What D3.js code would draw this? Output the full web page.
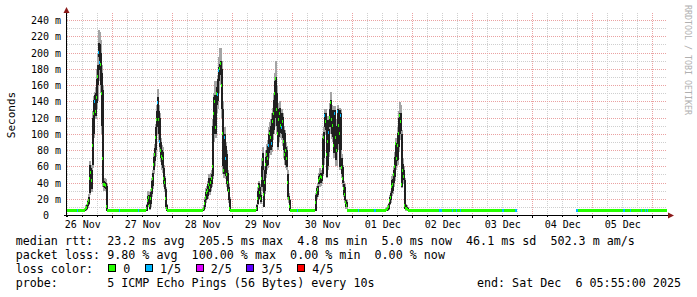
<!DOCTYPE html>
<html>
<head>
<meta charset="utf-8">
<script src="https://cdn.jsdelivr.net/npm/d3@7"></script>
<style>
body { margin: 0; background: #fff; }
svg text { font-family: "DejaVu Sans Mono", monospace; white-space: pre; }
</style>
</head>
<body>
<div id="chart"></div>
<script>
// time window (one column = one consolidated step)
var startTime = "2025-11-26T05:55Z";
var endTime = "2025-12-06T05:55Z";
var stepMinutes = 24;

var dayLabels = ["26 Nov", "27 Nov", "28 Nov", "29 Nov", "30 Nov", "01 Dec", "02 Dec", "03 Dec", "04 Dec", "05 Dec"];
var yTicks = [0, 20, 40, 60, 80, 100, 120, 140, 160, 180, 200, 220, 240];

// quiet level outside the busy hours (ms)
var baseRtt = 5.0;
var gapFrom = "2025-12-03T17:55Z";
var gapTo = "2025-12-04T17:31Z";

// busy periods, one value per step: median, dark smoke, light smoke, loss (pings of 5)
var peakStart = ["2025-11-26T12:43Z", "2025-11-27T13:31Z", "2025-11-28T11:55Z",
                 "2025-11-29T09:31Z", "2025-11-30T09:07Z", "2025-12-01T13:07Z"];
var peakMed = [
    [6,8,9,14,18,45,52,42,85,125,140,128,145,170,200,188,185,150,70,38,37,36,10],
    [8,18,22,12,20,32,45,62,75,95,118,138,118,90,80,72,70,45,40,20,8],
    [6,8,14,22,28,30,38,34,40,45,60,125,140,108,150,148,178,180,187,160,100,55,95,70,50,40,30,8],
    [8,20,35,28,20,45,68,25,40,62,75,70,85,100,95,88,115,125,150,168,130,100,118,125,110,108,115,90,75,80,70,40,20,10],
    [15,28,32,42,45,48,46,60,95,122,115,75,90,102,120,138,118,110,85,125,95,80,128,110,100,123,59,45,33,25,15,12],
    [6,7,8,10,18,22,35,38,50,60,88,70,85,100,123,115,37,55,48,12,8,8,7]
];
var peakLo = [
    [5,6,7,11,14,27,35,32,62,100,132,122,138,160,195,178,160,110,39,34,33,32,5],
    [5,12,15,8,14,26,36,55,66,80,108,125,100,84,70,62,58,38,32,10,5],
    [5,6,10,18,20,24,30,28,33,38,48,100,118,100,135,140,165,172,178,130,60,50,55,48,38,30,18,5],
    [5,14,22,20,16,35,55,10,30,51,60,62,76,88,80,84,100,105,120,140,110,84,96,110,101,100,95,80,68,62,59,22,18,5],
    [5,22,25,38,39,40,42,51,70,108,105,47,60,78,108,115,100,96,76,91,68,78,88,90,59,80,50,39,25,18,10,10],
    [5,5,6,8,14,18,27,30,39,47,60,66,68,84,100,104,35,43,43,8,6,6,5]
];
var peakHi = [
    [8,10,12,17,22,62,58,56,120,142,148,150,168,185,212,210,200,175,154,42,41,40,36],
    [12,24,25,18,28,42,52,72,82,108,128,145,128,120,90,80,78,58,45,32,12],
    [8,10,18,28,32,38,45,42,46,50,110,145,148,135,158,168,182,186,190,180,130,100,100,85,75,52,35,20],
    [12,30,39,34,25,60,76,43,55,72,80,85,100,105,110,118,125,142,165,170,150,112,130,132,123,125,121,105,101,84,80,51,24,18],
    [25,33,36,48,51,52,50,95,102,126,125,110,117,106,130,142,128,129,121,129,109,88,130,125,129,126,70,59,38,35,18,16],
    [8,9,10,13,22,27,43,44,55,72,89,80,101,120,125,125,100,63,55,43,12,10,9]
];
var peakMin = [
    [5,5,6,9,12,25,30,28,58,95,125,118,130,140,180,165,150,100,35,30,30,30,5],
    [5,10,12,6,10,22,32,50,60,72,100,112,90,78,65,55,52,34,28,8,5],
    [5,5,8,15,18,20,26,25,30,34,44,90,108,95,125,130,150,160,165,120,50,45,50,44,34,28,15,5],
    [5,12,20,18,14,30,45,10,26,45,55,58,70,82,74,78,92,100,110,125,100,80,90,100,95,92,85,70,62,58,55,20,15,5],
    [5,20,22,34,35,36,38,48,62,100,98,45,55,72,100,105,94,90,70,85,60,60,80,85,55,75,45,35,22,15,8,8],
    [5,5,5,6,12,15,24,26,35,42,55,60,62,78,92,95,33,40,38,7,5,5,5]
];
var peakMax = [
    [9,12,14,19,26,66,62,60,128,146,152,158,180,200,228,225,215,185,160,45,46,44,38],
    [14,30,28,20,32,46,56,76,88,112,135,155,135,125,95,86,84,62,48,35,14],
    [9,12,22,33,36,42,50,48,52,55,118,150,165,150,165,172,195,205,205,190,140,105,108,90,80,55,38,22],
    [14,34,42,38,28,70,84,50,60,80,88,92,108,115,118,125,132,150,175,189,160,120,138,140,128,130,126,110,105,90,85,55,27,20],
    [27,36,40,52,58,56,54,100,108,130,130,117,122,112,138,152,135,134,126,134,118,95,135,130,132,130,75,62,42,38,20,18],
    [9,10,12,15,25,30,48,50,60,78,95,85,108,128,139,135,105,70,60,46,14,12,10]
];
var peakLoss = [
    [0,0,0,0,0,0,0,0,0,0,1,0,0,0,1,1,0,0,0,0,0,0,0],
    [0,0,0,0,0,0,0,0,0,0,0,1,0,1,0,0,0,0,0,0,0],
    [0,0,0,0,0,0,0,0,0,0,0,0,0,0,0,1,1,0,0,0,0,0,1,1,0,0,0,0],
    [0,0,0,0,0,0,0,0,0,0,0,0,1,0,0,1,0,0,0,0,0,0,0,0,0,1,0,0,0,0,0,0,0,0],
    [0,0,0,0,0,0,0,0,0,1,0,0,0,1,0,0,0,0,0,1,0,0,1,0,0,1,0,0,0,0,0,0],
    [0,0,0,0,0,0,0,0,0,0,0,0,0,0,0,0,0,0,0,0,0,0,0]
];

// 1/5 loss steps during the quiet hours
var quietLoss = ["2025-11-26T09:55Z", "2025-11-27T02:43Z", "2025-11-27T10:19Z", "2025-11-30T01:55Z",
    "2025-12-01T02:19Z", "2025-12-01T08:43Z", "2025-12-01T09:07Z", "2025-12-02T10:43Z",
    "2025-12-02T11:07Z", "2025-12-02T11:31Z", "2025-12-02T15:55Z", "2025-12-02T17:31Z",
    "2025-12-02T19:07Z", "2025-12-03T11:55Z", "2025-12-03T12:19Z", "2025-12-03T17:07Z",
    "2025-12-03T17:31Z", "2025-12-04T17:31Z", "2025-12-04T17:55Z", "2025-12-05T12:19Z",
    "2025-12-05T12:43Z", "2025-12-05T15:07Z", "2025-12-05T19:31Z", "2025-12-05T21:07Z",
    "2025-12-05T21:55Z"];

var lossLabels = ["0", "1/5", "2/5", "3/5", "4/5"];
var lossColors = ["#26ff00", "#00b8ff", "#dd00ff", "#5e00ff", "#ff0000"];

var legendRtt = "median rtt:  23.2 ms avg  205.5 ms max  4.8 ms min  5.0 ms now  46.1 ms sd  502.3 m am/s";
var legendLoss = "packet loss: 9.80 % avg  100.00 % max  0.00 % min  0.00 % now";
var legendProbe = "probe:       5 ICMP Echo Pings (56 Bytes) every 10s";
var legendEnd = "end: Sat Dec  6 05:55:00 2025";

// ---- build the step series
var start = new Date(startTime), end = new Date(endTime);
var stepMs = stepMinutes * 60000;
var nSteps = Math.round((end - start) / stepMs);
var stepOf = function(t) { return Math.round((Date.parse(t) - start) / stepMs); };

var series = [];
for (var i = 0; i < nSteps; i++) {
    series.push({ t: new Date(+start + i * stepMs), med: baseRtt, loss: 0 });
}
peakStart.forEach(function(s, p) {
    var i0 = stepOf(s);
    peakMed[p].forEach(function(v, k) {
        var d = series[i0 + k];
        d.med = v;
        d.lo = peakLo[p][k];
        d.hi = peakHi[p][k];
        d.mn = peakMin[p][k];
        d.mx = peakMax[p][k];
        d.loss = peakLoss[p][k];
    });
});
quietLoss.forEach(function(t) { series[stepOf(t)].loss = 1; });
var g0 = stepOf(gapFrom), g1 = stepOf(gapTo);
series = series.filter(function(d, i) { return i < g0 || i >= g1; });

// ---- chart
var svg = d3.select("#chart").append("svg")
    .attr("width", 697)
    .attr("height", 297);

var x = d3.scaleUtc().domain([start, end]).range([67, 667]);
var y = d3.scaleLinear().domain([0, 240]).range([215, 20]);
var plotTop = 13;

// grid
var grid = svg.append("g").attr("shape-rendering", "crispEdges");
var hourLines = d3.utcHour.every(6).range(start, end);
grid.selectAll(".vgrid")
    .data(hourLines)
    .enter().append("line")
        .attr("x1", function(d) { return Math.round(x(d)) + 0.5; })
        .attr("x2", function(d) { return Math.round(x(d)) + 0.5; })
        .attr("y1", plotTop)
        .attr("y2", 215)
        .attr("stroke", function(d) { return d.getUTCHours() == 0 ? "#eaa2a2" : "#cfcfcf"; })
        .attr("stroke-dasharray", "1,1");

var hLines = d3.range(10, 241, 10);
grid.selectAll(".hgrid")
    .data(hLines)
    .enter().append("line")
        .attr("x1", 67)
        .attr("x2", 667)
        .attr("y1", function(d) { return Math.round(y(d)) + 0.5; })
        .attr("y2", function(d) { return Math.round(y(d)) + 0.5; })
        .attr("stroke", function(d) { return d % 20 == 0 ? "#eaa2a2" : "#cfcfcf"; })
        .attr("stroke-dasharray", "1,1");

// smoke and median (smoke columns 2px wide so neighbours merge like the rrd areas)
var colX = function(d) { return Math.round(x(d.t)); };
var marks = svg.append("g").attr("shape-rendering", "crispEdges");
var smoky = series.filter(function(d) { return d.mx != null; });

marks.selectAll(".outer")
    .data(smoky)
    .enter().append("rect")
        .attr("x", colX)
        .attr("width", 2)
        .attr("y", function(d) { return y(d.mx); })
        .attr("height", function(d) { return y(d.mn) - y(d.mx); })
        .attr("fill", "#a4a4a4");

marks.selectAll(".inner")
    .data(smoky)
    .enter().append("rect")
        .attr("x", colX)
        .attr("width", 2)
        .attr("y", function(d) { return y(d.hi); })
        .attr("height", function(d) { return y(d.lo) - y(d.hi); })
        .attr("fill", "#202020");

marks.selectAll(".median")
    .data(series)
    .enter().append("rect")
        .attr("x", colX)
        .attr("width", 1)
        .attr("y", function(d) { return y(d.med) - 1.5; })
        .attr("height", 3)
        .attr("fill", function(d) { return lossColors[d.loss]; });

// axes
var noons = dayLabels.map(function(d, i) {
    return d3.utcHour.offset(d3.utcDay.floor(start), 12 + 24 * i);
});
var xAxisCall = d3.axisBottom(x)
    .tickValues(noons)
    .tickSize(0)
    .tickPadding(6)
    .tickFormat(function(d, i) { return dayLabels[i]; });
var xAxisGroup = svg.append("g")
    .attr("transform", "translate(0, 215)")
    .call(xAxisCall);
xAxisGroup.select(".domain").remove();

var yAxisCall = d3.axisLeft(y)
    .tickValues(yTicks)
    .tickSize(0)
    .tickPadding(6)
    .tickFormat(function(d) { return d == 0 ? "0  " : d + " m"; });
var yAxisGroup = svg.append("g")
    .attr("transform", "translate(67, 0)")
    .call(yAxisCall);
yAxisGroup.select(".domain").remove();
yAxisGroup.selectAll("text").attr("dy", "0.37em");

svg.selectAll(".tick text")
    .attr("font-family", "DejaVu Sans Mono")
    .attr("font-size", "10px")
    .attr("fill", "#000");

// small ticks under the time axis
grid.selectAll(".xtick")
    .data(hourLines)
    .enter().append("line")
        .attr("x1", function(d) { return Math.round(x(d)) + 0.5; })
        .attr("x2", function(d) { return Math.round(x(d)) + 0.5; })
        .attr("y1", 215)
        .attr("y2", function(d) { return d.getUTCHours() == 0 ? 218 : 217; })
        .attr("stroke", "#000");

// axis lines and arrows
svg.append("line")
    .attr("x1", 66.5).attr("x2", 66.5)
    .attr("y1", 217).attr("y2", 12)
    .attr("stroke", "#000");
svg.append("line")
    .attr("x1", 64).attr("x2", 669)
    .attr("y1", 215.5).attr("y2", 215.5)
    .attr("stroke", "#000");
svg.append("path")
    .attr("d", "M63.5,13 L66.5,7 L69.5,13 Z")
    .attr("fill", "#8b1a1a");
svg.append("path")
    .attr("d", "M668,212.5 L674,215.5 L668,218.5 Z")
    .attr("fill", "#8b1a1a");

// y title
svg.append("text")
    .attr("transform", "translate(14.5, 115) rotate(-90)")
    .attr("text-anchor", "middle")
    .attr("font-size", "11px")
    .text("Seconds");

// watermark
svg.append("text")
    .attr("transform", "translate(684.5, 5) rotate(90)")
    .attr("font-size", "8.3px")
    .attr("fill", "#b0b0b0")
    .text("RRDTOOL / TOBI OETIKER");

// legend
var legend = svg.append("g").attr("font-size", "11.7px").attr("fill", "#000");
var lx = 15.7;
legend.append("text").attr("x", lx).attr("y", 245).text(legendRtt);
legend.append("text").attr("x", lx).attr("y", 259).text(legendLoss);
legend.append("text").attr("x", lx).attr("y", 273).text("loss color:");
legend.append("text").attr("x", lx).attr("y", 287).text(legendProbe);
legend.append("text").attr("x", 681).attr("y", 287).attr("text-anchor", "end").text(legendEnd);

var bx = 108.3;
lossLabels.forEach(function(lab, i) {
    legend.append("rect")
        .attr("x", Math.round(bx) + 0.5)
        .attr("y", 264.5)
        .attr("width", 7)
        .attr("height", 7)
        .attr("fill", lossColors[i])
        .attr("stroke", "#000");
    legend.append("text").attr("x", bx + 15).attr("y", 273).text(lab);
    bx += 15 + lab.length * 7.05 + 14.6;
});
</script>
</body>
</html>
